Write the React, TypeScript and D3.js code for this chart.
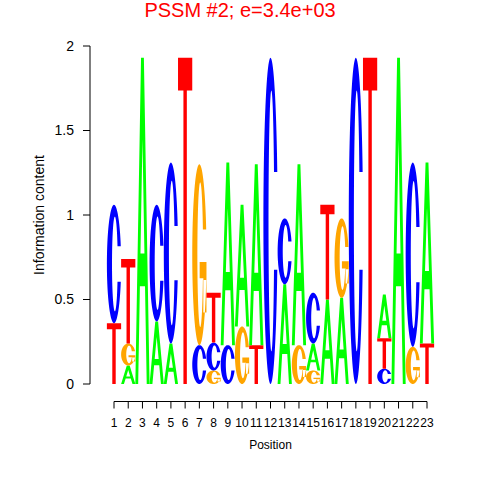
import React from "react";
import * as d3 from "d3";

// ---- data ----
const positions = d3.range(1, 24);
// letters of each column, stacked bottom -> top
const stackLetters = [
  "TC", "AGT", "A", "AC", "AC", "T", "CG", "GCT", "CA", "GA", "TA", "C",
  "AC", "GA", "GAC", "AT", "AG", "C", "T", "CTA", "A", "GC", "TA",
];
// information content (bits) of each stacked letter, bottom -> top
const stackHeights = [
  [0.36, 0.7], [0.11, 0.13, 0.5], [1.93], [0.37, 0.69], [0.24, 1.07], [1.93],
  [0.23, 1.07], [0.08, 0.165, 0.295], [0.23, 1.08], [0.34, 0.72], [0.23, 1.07],
  [1.93], [0.59, 0.39], [0.23, 1.07], [0.08, 0.16, 0.3], [0.5, 0.56],
  [0.51, 0.47], [1.93], [1.93], [0.09, 0.18, 0.26], [1.93], [0.22, 1.09],
  [0.24, 1.07],
];
const yTicks = [0, 0.5, 1, 1.5, 2];
const yTickLabels = ["0", "0.5", "1", "1.5", "2"];
const title = "PSSM #2; e=3.4e+03";
const xLabel = "Position";
const yLabel = "Information content";
const letterColors: Record<string, string> = {
  A: "#00ff00",
  C: "#0000ff",
  G: "#ffa500",
  T: "#ff0000",
};

const FONT = "'Liberation Sans', Arial, Helvetica, sans-serif";

type Pt = [number, number];

function ringPts(yL: number, yU: number): Pt[] {
  // outer ellipse centre (0.5,0.5) r .5/.5; inner centre (0.56,0.5) r .2/.4
  const n = 80;
  const tU = Math.asin((yU - 0.5) / 0.5);
  const tL = 2 * Math.PI + Math.asin((yL - 0.5) / 0.5);
  const pU = Math.asin((yU - 0.5) / 0.4);
  const pL = 2 * Math.PI + Math.asin((yL - 0.5) / 0.4);
  const pts: Pt[] = [];
  for (let i = 0; i <= n; i++) {
    const t = tU + ((tL - tU) * i) / n;
    pts.push([0.5 + 0.5 * Math.cos(t), 0.5 + 0.5 * Math.sin(t)]);
  }
  for (let i = 0; i <= n; i++) {
    const p = pL - ((pL - pU) * i) / n;
    pts.push([0.56 + 0.2 * Math.cos(p), 0.5 + 0.4 * Math.sin(p)]);
  }
  return pts;
}

function glyphShapes(letter: string): Pt[][] {
  if (letter === "A") {
    return [
      [[0, 0], [0.4, 1], [0.6, 1], [1, 0], [0.8, 0], [0.68, 0.3], [0.32, 0.3], [0.2, 0]],
      [[0.36, 0.4], [0.5, 0.75], [0.64, 0.4]],
    ];
  }
  if (letter === "T") {
    return [[[0, 1], [1, 1], [1, 0.9], [0.62, 0.9], [0.62, 0], [0.38, 0], [0.38, 0.9], [0, 0.9]]];
  }
  if (letter === "C") {
    return [ringPts(0.35, 0.65)];
  }
  // G
  return [
    ringPts(0.36, 0.64),
    [[0.52, 0.46], [1, 0.46], [1, 0.18], [0.78, 0.18], [0.78, 0.37], [0.52, 0.37]],
  ];
}

function glyphPath(letter: string, x0: number, w: number, yb: number, h: number) {
  const p = d3.path();
  for (const poly of glyphShapes(letter)) {
    poly.forEach(([u, v], i) => {
      const X = x0 + u * w;
      const Y = yb - v * h;
      if (i === 0) p.moveTo(X, Y);
      else p.lineTo(X, Y);
    });
    p.closePath();
  }
  return p.toString();
}

export default function App() {
  const x = d3.scaleLinear().domain([1, 23]).range([114, 427]);
  const y = d3.scaleLinear().domain([0, 2]).range([384, 46]);
  const step = x(2) - x(1);
  const axisY = 401.5;
  const axisX = 90;

  const letters: { d: string; fill: string; key: string; poly: boolean }[] = [];
  positions.forEach((pos, j) => {
    let cum = 0;
    const ls = stackLetters[j];
    stackHeights[j].forEach((ht, i) => {
      const L = ls[i];
      const yb = y(cum);
      const yt = y(cum + ht);
      letters.push({
        d: glyphPath(L, x(pos) - step / 2, step, yb, yb - yt),
        fill: letterColors[L],
        key: `${pos}-${i}`,
        poly: L === "A",
      });
      cum += ht;
    });
  });

  return (
    <svg
      width={480}
      height={480}
      style={{ position: "absolute", left: 0, top: 0, background: "#fff" }}
      fontFamily={FONT}
    >
      <rect x={0} y={0} width={480} height={480} fill="#fff" />
      <text x={240} y={17} textAnchor="middle" fontSize={20} fill="#ff0000">
        {title}
      </text>
      {letters.map((l) => (
        <path key={l.key} d={l.d} fill={l.fill} fillRule="evenodd" />
      ))}
      {/* y axis */}
      <line x1={axisX} x2={axisX} y1={y(0)} y2={y(2)} stroke="#000" />
      {yTicks.map((t, i) => (
        <g key={t}>
          <line x1={axisX - 7} x2={axisX} y1={y(t)} y2={y(t)} stroke="#000" />
          <text x={74} y={y(t)} dy="0.35em" textAnchor="end" fontSize={14} fill="#000">
            {yTickLabels[i]}
          </text>
        </g>
      ))}
      {/* x axis */}
      <line x1={x(1)} x2={x(23)} y1={axisY} y2={axisY} stroke="#000" />
      {positions.map((p) => (
        <g key={p}>
          <line x1={x(p)} x2={x(p)} y1={axisY} y2={axisY + 7} stroke="#000" />
          <text x={x(p)} y={427} textAnchor="middle" fontSize={12} fill="#000">
            {String(p)}
          </text>
        </g>
      ))}
      <text x={(x(1) + x(23)) / 2} y={449} textAnchor="middle" fontSize={12} fill="#000">
        {xLabel}
      </text>
      <text
        transform={`translate(44, ${(y(0) + y(2)) / 2}) rotate(-90)`}
        textAnchor="middle"
        fontSize={14}
        fill="#000"
      >
        {yLabel}
      </text>
    </svg>
  );
}
